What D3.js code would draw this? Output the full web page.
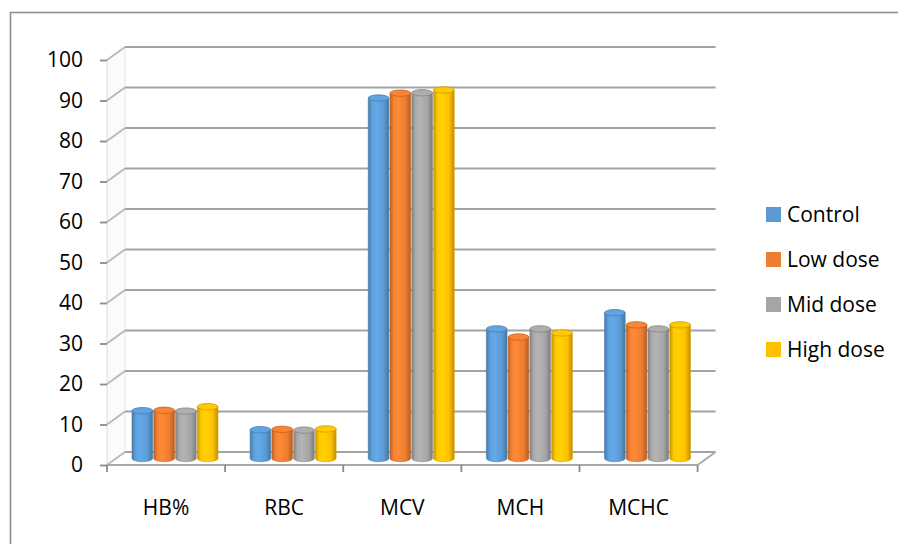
<!DOCTYPE html>
<html>
<head>
<meta charset="utf-8">
<script src="https://cdn.jsdelivr.net/npm/d3@7"></script>
<style>
  html, body { margin: 0; padding: 0; background: #fff; }
  svg { display: block; font-family: "Open Sans", "Noto Sans", sans-serif; }
</style>
</head>
<body>
<svg id="chart" width="898" height="544"></svg>
<script>
// Haematological parameters per treatment group
const categories = ["HB%", "RBC", "MCV", "MCH", "MCHC"];
const seriesNames = ["Control", "Low dose", "Mid dose", "High dose"];
const control  = [11.8, 7.1, 89.0, 32.0, 36.0];
const lowDose  = [11.9, 7.2, 90.2, 30.0, 33.0];
const midDose  = [11.7, 7.0, 90.3, 32.0, 32.0];
const highDose = [12.8, 7.3, 91.0, 31.0, 33.0];
const yTicks = [0, 10, 20, 30, 40, 50, 60, 70, 80, 90, 100];
const colors = ["#5b9bd5", "#ed7d31", "#a5a5a5", "#ffc000"];

const seriesValues = [control, lowDose, midDose, highDose];
const FONT = "\"Open Sans\", \"Noto Sans\", sans-serif";

const svg = d3.select("#chart");

// Outer chart frame
svg.append("rect")
  .attr("x", 10.5).attr("y", 12.5)
  .attr("width", 1000).attr("height", 1000)
  .attr("fill", "none").attr("stroke", "#8e8e8e").attr("stroke-width", 1.6);

// Oblique 3D projection: front plane plus a depth offset
const DX = 18, DY = -13;
const x = d3.scaleBand().domain(categories).range([107, 697.6]);
const y = d3.scaleLinear().domain([0, 100]).range([465, 60]);
const inner = d3.scaleBand().domain(seriesNames).range([16, 102]).paddingInner(0.05);

const x0 = x.range()[0], x1 = x.range()[1];

// Left side wall
svg.append("path")
  .attr("d", `M${x0},${y(0)} L${x0},${y(100)} L${x0 + DX},${y(100) + DY} L${x0 + DX},${y(0) + DY} Z`)
  .attr("fill", "#fbfbfb").attr("stroke", "none");
svg.append("line")
  .attr("x1", x0 + DX).attr("x2", x0 + DX)
  .attr("y1", y(0) + DY).attr("y2", y(100) + DY)
  .attr("stroke", "#e6e6e6").attr("stroke-width", 1);
svg.append("line")
  .attr("x1", x0).attr("x2", x0)
  .attr("y1", y(0)).attr("y2", y(100))
  .attr("stroke", "#dcdcdc").attr("stroke-width", 1);

// Gridlines: diagonal on the side wall, horizontal on the back wall
const grid = svg.append("g").attr("fill", "none").attr("stroke-width", 1.8);
yTicks.forEach(t => {
  grid.append("path")
    .attr("d", `M${x0},${y(t)} L${x0 + DX},${y(t) + DY}`)
    .attr("stroke", "#b8b8b8");
  grid.append("path")
    .attr("d", `M${x0 + DX},${y(t) + DY} L${x1 + DX},${y(t) + DY}`)
    .attr("stroke", "#a3a3a3");
});

// Floor outline (front edge and right edge)
svg.append("path")
  .attr("d", `M${x0},${y(0)} L${x1},${y(0)} L${x1 + DX},${y(0) + DY}`)
  .attr("fill", "none").attr("stroke", "#a8a8a8").attr("stroke-width", 1.8);

// Value axis
const yAxis = d3.axisLeft(y).tickValues(yTicks).tickSize(7).tickPadding(17);
const gy = svg.append("g").attr("transform", `translate(${x0},0)`).call(yAxis);
gy.select(".domain").remove();
gy.selectAll(".tick line").attr("stroke", "#8a8a8a").attr("stroke-width", 1.8);
gy.selectAll(".tick text")
  .attr("fill", "#000").attr("font-size", 21).attr("font-family", FONT);

// Category axis
const xAxis = d3.axisBottom(x).tickSize(0).tickPadding(35);
const gx = svg.append("g").attr("transform", `translate(0,${y(0)})`).call(xAxis);
gx.select(".domain").remove();
gx.selectAll(".tick text")
  .attr("fill", "#000").attr("font-size", 21).attr("font-family", FONT);
// Category boundary ticks
const bounds = categories.map(c => x(c)).concat([x1]);
svg.append("g").selectAll("line").data(bounds).join("line")
  .attr("x1", d => d).attr("x2", d => d)
  .attr("y1", y(0)).attr("y2", y(0) + 7)
  .attr("stroke", "#8a8a8a").attr("stroke-width", 1.8);

// Gradients for cylinder shading
const defs = svg.append("defs");
colors.forEach((c, i) => {
  const base = d3.color(c);
  const g = defs.append("linearGradient").attr("id", "cyl" + i)
    .attr("x1", "0%").attr("x2", "100%").attr("y1", "0%").attr("y2", "0%");
  g.append("stop").attr("offset", "0%").attr("stop-color", base.darker(0.7));
  g.append("stop").attr("offset", "18%").attr("stop-color", base.brighter(0.1));
  g.append("stop").attr("offset", "40%").attr("stop-color", base.brighter(0.25));
  g.append("stop").attr("offset", "75%").attr("stop-color", base);
  g.append("stop").attr("offset", "100%").attr("stop-color", base.darker(0.8));
});

// Cylinders, placed at mid depth
const bw = inner.bandwidth();
const rx = bw / 2, ry = 3.2;
const bars = [];
categories.forEach((cat, ci) => {
  seriesNames.forEach((s, si) => {
    bars.push({ cat, s, si, v: seriesValues[si][ci] });
  });
});

const gBars = svg.append("g");
bars.forEach(d => {
  const cx = x(d.cat) + inner(d.s) + bw / 2 + DX / 2;
  const yb = y(0) + DY / 2;
  const yt = y(d.v) + DY / 2;
  const base = d3.color(colors[d.si]);
  gBars.append("path")
    .attr("d", `M${cx - rx},${yt} L${cx - rx},${yb} A${rx},${ry} 0 0 0 ${cx + rx},${yb} L${cx + rx},${yt} Z`)
    .attr("fill", `url(#cyl${d.si})`)
    .attr("stroke", base.darker(0.5)).attr("stroke-width", 0.6);
  gBars.append("ellipse")
    .attr("cx", cx).attr("cy", yt).attr("rx", rx).attr("ry", ry)
    .attr("fill", base.brighter(0.15))
    .attr("stroke", base.darker(0.6)).attr("stroke-width", 0.8);
});

// Legend
const legend = svg.append("g");
seriesNames.forEach((s, i) => {
  const ly = 214 + i * 45;
  legend.append("rect")
    .attr("x", 766).attr("y", ly - 7).attr("width", 15).attr("height", 15)
    .attr("fill", colors[i]);
  legend.append("text")
    .attr("x", 787).attr("y", ly).attr("dy", "0.36em")
    .attr("font-size", 21).attr("fill", "#000").attr("font-family", FONT)
    .text(s);
});
</script>
</body>
</html>
